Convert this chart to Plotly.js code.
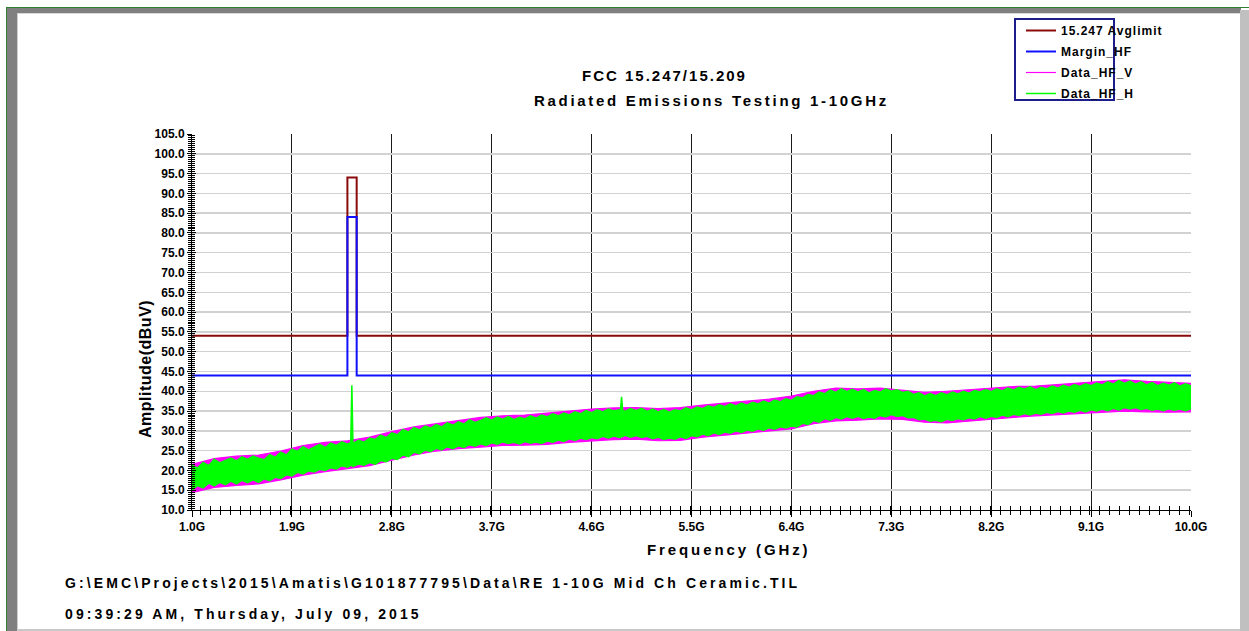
<!DOCTYPE html>
<html>
<head>
<meta charset="utf-8">
<script src="https://cdn.plot.ly/plotly-3.0.1.min.js"></script>
<style>
  html, body { margin:0; padding:0; background:#ffffff; }
  #wrap { position:relative; width:1249px; height:631px; overflow:hidden; }
  #chart { position:absolute; left:0; top:0; width:1249px; height:631px; }
  .fr { position:absolute; pointer-events:none; }
</style>
</head>
<body>
<div id="wrap">
  <div id="chart"></div>
  <div class="fr" style="left:6px;top:7px;width:1243px;height:1px;background:#2f7f2f;"></div>
  <div class="fr" style="left:6px;top:7px;width:1px;height:624px;background:#2f7f2f;"></div>
  <div class="fr" style="left:7px;top:8px;width:1234px;height:5px;background:#808080;"></div>
  <div class="fr" style="left:7px;top:8px;width:11px;height:623px;background:#808080;"></div>
  <div class="fr" style="left:18px;top:13px;width:1222px;height:1px;background:#d8d8d8;"></div>
  <div class="fr" style="left:17px;top:13px;width:1px;height:618px;background:#d0d0d0;"></div>
  <div class="fr" style="left:1240px;top:10px;width:9px;height:621px;background:#c0c0c0;"></div>
  <div class="fr" style="left:18px;top:629px;width:1222px;height:2px;background:#c8c8c8;"></div>
</div>
<script>
// ---- Data ----
var limitFreq  = [1.0, 2.4, 2.4, 2.4835, 2.4835, 10.0];
var limitVals  = [54, 54, 94, 94, 54, 54];
var marginVals = [44, 44, 84, 84, 44, 44];

// Data_HF_H (green): upper / lower extent of the noisy trace
var freqH = [1.00,1.05,1.10,1.15,1.20,1.25,1.30,1.35,1.40,1.45,1.50,1.55,1.60,1.65,1.70,1.75,1.80,1.85,1.90,1.95,
  2.00,2.05,2.10,2.15,2.20,2.25,2.30,2.35,2.40,2.43,2.44,2.445,2.45,2.50,2.55,2.60,2.65,2.70,2.75,2.80,2.85,2.90,2.95,
  3.00,3.05,3.10,3.15,3.20,3.25,3.30,3.35,3.40,3.45,3.50,3.55,3.60,3.65,3.70,3.75,3.80,3.85,3.90,3.95,
  4.00,4.05,4.10,4.15,4.20,4.25,4.30,4.35,4.40,4.45,4.50,4.55,4.60,4.65,4.70,4.75,4.80,4.86,4.87,4.88,4.90,4.95,
  5.00,5.05,5.10,5.15,5.20,5.25,5.30,5.35,5.40,5.45,5.50,5.55,5.60,5.65,5.70,5.75,5.80,5.85,5.90,5.95,
  6.00,6.05,6.10,6.15,6.20,6.25,6.30,6.35,6.40,6.45,6.50,6.55,6.60,6.65,6.70,6.75,6.80,6.85,6.90,6.95,
  7.00,7.05,7.10,7.15,7.20,7.25,7.30,7.35,7.40,7.45,7.50,7.55,7.60,7.65,7.70,7.75,7.80,7.85,7.90,7.95,
  8.00,8.05,8.10,8.15,8.20,8.25,8.30,8.35,8.40,8.45,8.50,8.55,8.60,8.65,8.70,8.75,8.80,8.85,8.90,8.95,
  9.00,9.05,9.10,9.15,9.20,9.25,9.30,9.35,9.40,9.45,9.50,9.55,9.60,9.65,9.70,9.75,9.80,9.85,9.90,9.95,10.00];
var topH = [21.3,20.6,22.0,21.2,22.8,21.9,22.5,23.1,22.4,23.4,22.8,23.6,23.1,22.7,24.0,23.3,24.6,23.9,25.4,24.8,
  26.0,25.2,25.9,26.6,25.8,26.9,26.3,27.2,26.6,27.0,41.5,27.3,26.8,27.6,27.1,28.2,27.8,28.9,28.3,29.5,29.0,30.3,29.7,
  30.8,30.2,31.2,30.7,31.6,31.0,32.0,31.4,32.3,31.7,32.8,32.1,32.6,33.3,32.7,33.5,32.9,33.6,32.8,33.4,
  33.0,33.8,33.2,34.0,33.5,34.3,33.8,34.5,34.0,34.8,34.3,35.1,34.6,35.3,34.8,35.5,35.0,35.4,38.6,35.2,34.9,35.6,
  35.1,35.7,34.9,35.5,34.8,35.4,34.7,35.3,35.0,35.8,35.3,36.0,35.6,36.3,35.9,36.6,36.1,36.8,36.3,37.0,
  36.5,37.2,36.8,37.5,37.0,37.8,37.3,38.1,37.7,38.6,38.3,39.2,38.9,39.8,39.4,40.3,39.7,40.6,39.9,40.5,
  39.8,40.4,39.6,40.2,39.8,40.6,40.0,40.4,39.7,40.0,39.2,39.6,38.8,39.4,38.9,39.6,39.1,39.8,39.3,40.0,
  39.5,40.2,39.8,40.4,39.9,40.6,40.1,40.8,40.3,41.0,40.5,41.1,40.4,41.0,40.6,41.3,40.8,41.5,41.0,41.7,
  41.2,41.9,41.4,42.1,41.6,42.4,41.8,42.7,42.0,42.6,41.8,42.4,41.6,42.2,41.4,42.0,41.5,42.1,41.3,41.9,41.4];
var botH = [15.0,16.2,15.6,16.8,16.1,17.0,16.4,17.3,16.6,17.5,16.9,17.6,17.0,17.9,17.4,18.3,18.0,18.9,18.6,19.5,
  19.1,19.9,19.6,20.3,20.0,20.7,20.4,21.2,20.8,21.3,21.5,21.4,21.0,21.6,21.3,22.0,21.6,22.5,22.2,23.1,22.8,23.9,23.5,
  24.6,24.2,25.1,24.8,25.6,25.2,26.0,25.5,26.2,25.8,26.5,26.1,26.7,26.3,27.0,26.6,27.2,26.8,27.1,26.7,
  27.3,26.9,27.2,26.8,27.4,27.1,27.7,27.3,28.0,27.6,28.2,27.8,28.3,28.0,28.6,28.2,28.7,28.3,28.8,28.5,28.9,28.4,
  28.8,28.3,28.6,28.0,28.4,27.8,28.2,27.9,28.5,28.1,28.8,28.5,29.2,28.8,29.5,29.1,29.7,29.4,30.0,29.6,
  30.2,29.9,30.5,30.1,30.8,30.4,31.0,30.7,31.2,31.0,31.9,31.6,32.6,32.2,33.1,32.7,33.4,33.0,33.6,33.2,
  33.7,33.1,33.5,33.2,33.9,33.5,34.1,33.6,33.9,33.3,33.4,32.8,33.0,32.4,32.7,32.3,32.9,32.6,33.1,32.8,
  33.3,33.0,33.6,33.2,33.7,33.4,34.0,33.6,34.2,33.9,34.4,34.0,34.5,34.2,34.7,34.4,34.9,34.5,35.0,34.7,
  35.2,34.8,35.3,35.0,35.5,35.1,35.7,35.3,35.9,35.5,35.9,35.4,35.7,35.2,35.5,35.1,35.6,35.2,35.5,35.1,35.6];

// Data_HF_V (magenta): upper / lower extent
var freqV = [1.0,1.2,1.4,1.6,1.8,2.0,2.2,2.4,2.6,2.8,3.0,3.2,3.4,3.6,3.8,4.0,4.2,4.4,4.6,4.8,5.0,5.2,5.4,
  5.6,5.8,6.0,6.2,6.4,6.6,6.8,7.0,7.2,7.4,7.6,7.8,8.0,8.2,8.4,8.6,8.8,9.0,9.2,9.4,9.6,9.8,10.0];
var topV = [21.5,23.0,23.6,23.9,24.9,26.3,27.1,27.5,28.4,29.8,31.0,31.8,32.5,33.4,33.8,34.0,34.5,35.0,35.5,35.8,35.9,35.6,35.9,
  36.5,37.0,37.4,38.0,38.8,40.0,40.8,40.6,40.8,40.3,39.7,40.0,40.4,40.8,41.2,41.3,41.7,42.1,42.6,42.9,42.5,42.3,42.0];
var botV = [14.4,15.7,16.2,16.6,17.6,18.8,19.7,20.4,21.2,22.6,23.9,24.9,25.5,25.9,26.3,26.4,26.6,27.1,27.5,27.8,27.9,27.5,27.6,
  28.4,28.9,29.4,30.0,30.5,31.8,32.5,32.7,33.0,32.9,32.2,32.0,32.5,32.9,33.4,33.8,34.1,34.4,34.6,35.0,34.8,34.7,34.8];

var seriesNames = ['15.247 Avglimit', 'Margin_HF', 'Data_HF_V', 'Data_HF_H'];
var titleLines = ['FCC 15.247/15.209', 'Radiated Emissions Testing 1-10GHz'];
var xTitle = 'Frequency (GHz)';
var yTitle = 'Amplitude(dBuV)';
var footLines = ['G:\\EMC\\Projects\\2015\\Amatis\\G101877795\\Data\\RE 1-10G Mid Ch Ceramic.TIL',
                 '09:39:29 AM, Thursday, July 09, 2015'];

// ---- Plot ----
var FONT = 'Liberation Sans, Arial, Helvetica, sans-serif';
var cMag = '#ff00ff', cGrn = '#00ff00', cRed = '#8b0a0a', cBlue = '#1010ff';

function sp(s, ls){ return '<span style="letter-spacing:' + ls + 'px">' + s + '</span>'; }

var traces = [
  {x: freqV, y: botV, mode:'lines', line:{color:cMag, width:1.2}, name: sp(seriesNames[2], 1), legendrank: 3, legendgroup:'g3', hoverinfo:'skip'},
  {x: freqV, y: topV, mode:'lines', line:{color:cMag, width:1.2}, fill:'tonexty', fillcolor:cMag, legendgroup:'g3', showlegend:false, hoverinfo:'skip'},
  {x: freqH, y: botH, mode:'lines', line:{color:cGrn, width:1.5}, name: sp(seriesNames[3], 1), legendrank: 4, legendgroup:'g4', hoverinfo:'skip'},
  {x: freqH, y: topH, mode:'lines', line:{color:cGrn, width:1.5}, fill:'tonexty', fillcolor:cGrn, legendgroup:'g4', showlegend:false, hoverinfo:'skip'},
  {x: limitFreq, y: limitVals, mode:'lines', line:{color:cRed, width:2}, name: sp(seriesNames[0], 1), legendrank: 1, legendgroup:'g1'},
  {x: limitFreq, y: marginVals, mode:'lines', line:{color:cBlue, width:2}, name: sp(seriesNames[1], 1), legendrank: 2, legendgroup:'g2'},
  {x: [], y: [], xaxis:'x2', yaxis:'y2', showlegend:false, hoverinfo:'skip'}
];

var L = 192, R = 1191, T = 134, B = 510;
function px(p){ return (p - L) / (R - L); }
function py(p){ return (B - p) / (B - T); }

var bold = {family: FONT, size: 12, color: '#000000', weight: 'bold'};

var layout = {
  width: 1249, height: 631,
  margin: {l: L, r: 1249 - R, t: T, b: 631 - B, pad: 0},
  paper_bgcolor: '#ffffff', plot_bgcolor: '#ffffff',
  showlegend: true,
  legend: {x: px(1021), y: py(16), xanchor:'left', yanchor:'top', bgcolor:'rgba(0,0,0,0)', borderwidth:0,
           traceorder: 'grouped', tracegroupgap: 2,
           font: {family: FONT, size: 12, color:'#000', weight:'bold'}, itemwidth: 30},
  xaxis: {range: [1, 10], tick0: 1, dtick: 0.9, tickformat: '.1f', ticksuffix: 'G',
          ticks: 'outside', ticklen: 6, tickwidth: 1, tickcolor: '#000',
          showgrid: true, gridcolor: '#1a1a1a', gridwidth: 1,
          showline: true, linecolor: '#000', linewidth: 1, zeroline: false,
          tickfont: bold, fixedrange: true,
          minor: {dtick: 0.09, ticks: 'outside', ticklen: 4, tickcolor: '#000', showgrid: false}},
  yaxis: {range: [10, 105], tick0: 10, dtick: 5, tickformat: '.1f',
          ticks: 'outside', ticklen: 4, tickwidth: 1, tickcolor: '#000',
          showgrid: true, gridcolor: '#d2d2d2', gridwidth: 1.5,
          showline: true, linecolor: '#000', linewidth: 1, zeroline: false,
          tickfont: bold, fixedrange: true,
          minor: {dtick: 0.5, ticks: 'outside', ticklen: 3, tickcolor: '#000', showgrid: false}},
  xaxis2: {range: [1, 10], overlaying: 'x', anchor: 'y', side: 'bottom', tick0: 1, dtick: 0.9,
           ticks: 'inside', ticklen: 4, tickcolor: '#000', showticklabels: false, showgrid: false,
           showline: false, zeroline: false, fixedrange: true,
           minor: {dtick: 0.09, ticks: 'inside', ticklen: 4, tickcolor: '#000', showgrid: false}},
  yaxis2: {range: [10, 105], overlaying: 'y', anchor: 'x', side: 'left', tick0: 10, dtick: 5,
           ticks: 'inside', ticklen: 4, tickcolor: '#000', showticklabels: false, showgrid: false,
           showline: false, zeroline: false, fixedrange: true,
           minor: {dtick: 0.5, ticks: 'inside', ticklen: 3, tickcolor: '#000', showgrid: false}},
  shapes: [
    {type: 'rect', xref: 'paper', yref: 'paper', x0: px(1015), x1: px(1114), y0: py(100), y1: py(19),
     line: {color: '#1c1c8a', width: 2}, fillcolor: 'rgba(0,0,0,0)', layer: 'above'}
  ],
  annotations: [
    {text: sp(titleLines[0], 2), x: px(664), y: py(75), xref:'paper', yref:'paper', showarrow:false,
     xanchor:'center', yanchor:'middle', font: {family: FONT, size: 15, color:'#000', weight:'bold'}},
    {text: sp(titleLines[1], 2.7), x: px(711), y: py(101), xref:'paper', yref:'paper', showarrow:false,
     xanchor:'center', yanchor:'middle', font: {family: FONT, size: 15, color:'#000', weight:'bold'}},
    {text: sp(xTitle, 2.9), x: px(729), y: py(549), xref:'paper', yref:'paper', showarrow:false,
     xanchor:'center', yanchor:'middle', font: {family: FONT, size: 15, color:'#000', weight:'bold'}},
    {text: sp(yTitle, 0.5), x: px(145), y: py(369), xref:'paper', yref:'paper', showarrow:false, textangle: -90,
     xanchor:'center', yanchor:'middle', font: {family: FONT, size: 16, color:'#000', weight:'bold'}},
    {text: sp(footLines[0], 3.1), x: px(63), y: py(583), xref:'paper', yref:'paper', showarrow:false,
     xanchor:'left', yanchor:'middle', font: {family: FONT, size: 14, color:'#000', weight:'bold'}},
    {text: sp(footLines[1], 3.1), x: px(63), y: py(614), xref:'paper', yref:'paper', showarrow:false,
     xanchor:'left', yanchor:'middle', font: {family: FONT, size: 14, color:'#000', weight:'bold'}}
  ]
};

Plotly.newPlot('chart', traces, layout, {displayModeBar: false, staticPlot: true});
</script>
</body>
</html>
